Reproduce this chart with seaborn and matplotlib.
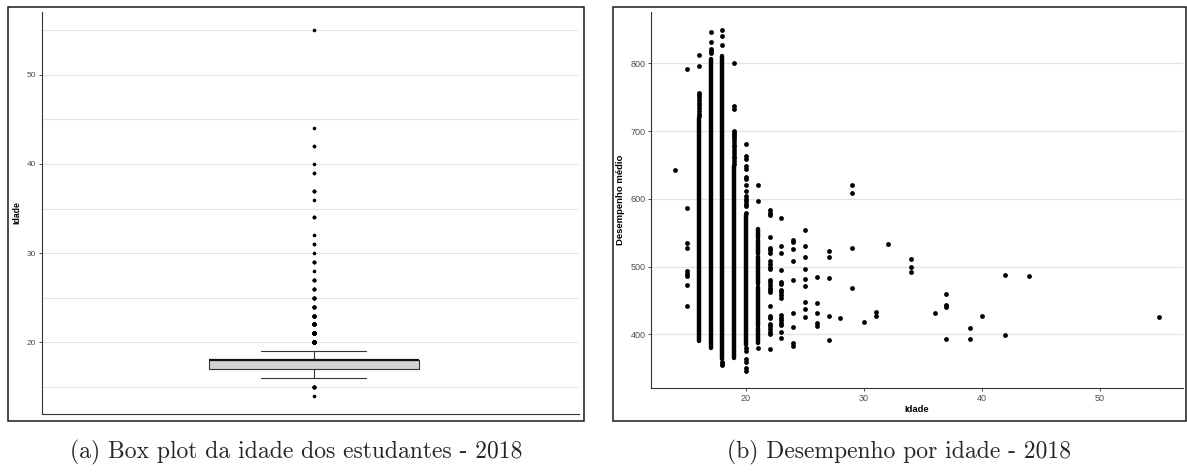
import numpy as np
import pandas as pd
import matplotlib
matplotlib.use("Agg")
import matplotlib.pyplot as plt
from matplotlib.patches import Rectangle
from matplotlib.ticker import FixedLocator
import seaborn as sns

# Idades dos estudantes e quantidade de estudantes em cada idade
idade_valores = [14, 15, 16, 17, 18, 19, 20, 21, 22, 23, 24, 25, 26, 27,
                 28, 29, 30, 31, 32, 34, 36, 37, 39, 40, 42, 44, 55]
idade_freq = [1, 9, 400, 2600, 2900, 700, 250, 60, 26, 17, 9, 9, 5, 5,
              1, 4, 1, 2, 1, 3, 1, 4, 2, 1, 2, 1, 1]

# Desempenho médio: notas isoladas por idade
notas_14 = [643]
notas_15 = [792, 587, 535, 527, 494, 490, 486, 473, 442]
notas_16 = [812, 797, 757, 754, 750, 746, 742, 738, 734, 730, 726, 723]
notas_17 = [846, 832, 821, 818, 815]
notas_18 = [850, 840, 828, 360, 357, 355]
notas_19 = [800, 737, 733, 701, 698, 695, 691, 688, 684, 680, 676, 672,
            668, 664, 660, 656, 652]
notas_20 = [681, 663, 659, 648, 644, 633, 630, 620, 612, 604, 600, 597,
            593, 589, 580, 380, 376, 364, 360, 350, 346]
notas_21 = [620, 597, 380]
notas_22 = [584, 580, 576, 544, 528, 524, 521, 508, 504, 500, 497, 481,
            477, 473, 469, 466, 463, 442, 428, 424, 416, 412, 408, 404,
            400, 379]
notas_23 = [572, 530, 521, 495, 478, 474, 466, 462, 458, 454, 429, 425,
            421, 417, 414, 404, 395]
notas_24 = [540, 537, 526, 508, 481, 432, 411, 387, 383]
notas_25 = [554, 531, 515, 496, 482, 472, 448, 438, 426]
notas_26 = [485, 446, 431, 417, 413]
notas_27 = [523, 515, 484, 427, 392]
notas_28 = [425]
notas_29 = [621, 609, 528, 469]
notas_30 = [418]
notas_31 = [433, 428]
notas_32 = [534]
notas_34 = [512, 500, 492]
notas_36 = [431]
notas_37 = [460, 444, 441, 394]
notas_39 = [409, 393]
notas_40 = [428]
notas_42 = [488, 399]
notas_44 = [487]
notas_55 = [426]

# Faixas de notas muito densas (estudantes contínuos) por idade
faixa_idade = [16, 17, 18, 19, 20, 21, 21, 21, 21, 21]
faixa_min = [390, 380, 364, 366, 385, 387, 413, 474, 519, 543]
faixa_max = [719, 807, 811, 648, 576, 410, 470, 515, 540, 555]

notas_por_idade = {
    14: notas_14, 15: notas_15, 16: notas_16, 17: notas_17, 18: notas_18,
    19: notas_19, 20: notas_20, 21: notas_21, 22: notas_22, 23: notas_23,
    24: notas_24, 25: notas_25, 26: notas_26, 27: notas_27, 28: notas_28,
    29: notas_29, 30: notas_30, 31: notas_31, 32: notas_32, 34: notas_34,
    36: notas_36, 37: notas_37, 39: notas_39, 40: notas_40, 42: notas_42,
    44: notas_44, 55: notas_55,
}

sns.set_style("white")
plt.rcParams["font.family"] = ["Liberation Sans", "DejaVu Sans"]

W, H = 1187, 472
fig = plt.figure(figsize=(W / 100, H / 100), dpi=100)
fig.patch.set_facecolor("white")


def fig_rect(x0, y0, x1, y1):
    """Pixel box (top-left origin) -> figure fraction [left, bottom, w, h]."""
    return [x0 / W, 1 - y1 / H, (x1 - x0) / W, (y1 - y0) / H]


# Molduras das duas subfiguras
for (x0, y0, x1, y1) in [(8, 7, 584, 421), (613, 7, 1186, 421)]:
    r = fig_rect(x0, y0, x1, y1)
    fig.add_artist(Rectangle((r[0], r[1]), r[2], r[3], transform=fig.transFigure,
                             fill=False, edgecolor="#1a1a1a", linewidth=1.1))

grid_col = "#E3E3E3"
tick_col = "#4D4D4D"
spine_col = "#333333"

# ---------- (a) Box plot das idades ----------
ax1 = fig.add_axes(fig_rect(42, 12, 579, 414))
idades = pd.DataFrame({"Idade": np.repeat(idade_valores, idade_freq)})
sns.boxplot(data=idades, y="Idade", ax=ax1, width=0.547, color="#D3D3D3",
            saturation=1, linecolor=spine_col, linewidth=0.8, whis=1.5,
            fliersize=2.6,
            flierprops=dict(marker="o", markerfacecolor="black",
                            markeredgecolor="none"),
            medianprops=dict(color="#111111", linewidth=1.6))
ax1.set_xlim(-0.709, 0.691)
ax1.set_ylim(11.95, 57.05)
ax1.set_yticks([20, 30, 40, 50])
ax1.yaxis.set_minor_locator(FixedLocator([15, 25, 35, 45, 55]))
ax1.set_axisbelow(True)
ax1.yaxis.grid(True, which="both", color=grid_col, linewidth=0.8)
ax1.xaxis.grid(False)
ax1.set_xticks([])
ax1.set_xlabel("")
ax1.set_ylabel("Idade", fontsize=6.2, fontweight="bold", color="black", labelpad=4)
ax1.tick_params(axis="y", which="major", labelsize=6.0, labelcolor=tick_col,
                color=spine_col, length=2.5, width=0.6, left=True, pad=1.5)
ax1.tick_params(axis="y", which="minor", length=0, left=False)
for side in ["top", "right"]:
    ax1.spines[side].set_visible(False)
for side in ["left", "bottom"]:
    ax1.spines[side].set_color(spine_col)
    ax1.spines[side].set_linewidth(0.8)

# ---------- (b) Desempenho por idade ----------
ax2 = fig.add_axes(fig_rect(651, 12, 1183, 388))
pontos = pd.DataFrame(
    [(idade, nota) for idade, notas in notas_por_idade.items() for nota in notas],
    columns=["Idade", "Desempenho médio"],
)
ax2.vlines(faixa_idade, faixa_min, faixa_max, color="black", linewidth=3.2,
           capstyle="round", zorder=3)
sns.scatterplot(data=pontos, x="Idade", y="Desempenho médio", ax=ax2,
                color="black", s=12, linewidth=0, zorder=3)
ax2.set_xlim(11.95, 57.05)
ax2.set_ylim(321, 876)
ax2.set_xticks([20, 30, 40, 50])
ax2.set_yticks([400, 500, 600, 700, 800])
ax2.set_axisbelow(True)
ax2.yaxis.grid(True, color=grid_col, linewidth=0.9)
ax2.xaxis.grid(False)
ax2.set_xlabel("Idade", fontsize=6.8, fontweight="bold", color="black", labelpad=2)
ax2.set_ylabel("Desempenho médio", fontsize=6.8, fontweight="bold",
               color="black", labelpad=4)
ax2.tick_params(axis="both", labelsize=6.5, labelcolor=tick_col, color=spine_col,
                length=2.5, width=0.6, left=True, bottom=True, pad=1.5)
for side in ["top", "right"]:
    ax2.spines[side].set_visible(False)
for side in ["left", "bottom"]:
    ax2.spines[side].set_color(spine_col)
    ax2.spines[side].set_linewidth(0.8)

# Legendas das subfiguras
fig.text(296 / W, 1 - 452 / H, "(a) Box plot da idade dos estudantes - 2018",
         ha="center", va="center", fontsize=17, family="cmr10")
fig.text(899 / W, 1 - 452 / H, "(b) Desempenho por idade - 2018",
         ha="center", va="center", fontsize=17, family="cmr10")

fig.savefig("out.png", dpi=100, facecolor="white")
